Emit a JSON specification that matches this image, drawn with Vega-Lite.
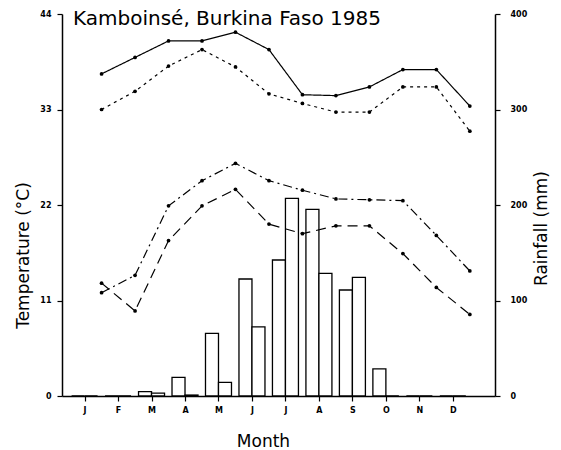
{
  "$schema": "https://vega.github.io/schema/vega-lite/v6.json",
  "width": 433,
  "height": 382,
  "autosize": "none",
  "padding": {"left": 62, "top": 14, "right": 66, "bottom": 54},
  "background": "white",
  "title": {
    "text": "Kamboinsé, Burkina Faso 1985",
    "anchor": "start",
    "orient": "top",
    "frame": "group",
    "offset": 0,
    "dy": 35,
    "dx": 11,
    "baseline": "alphabetic",
    "font": "DejaVu Sans",
    "fontSize": 20,
    "fontWeight": "normal",
    "color": "black"
  },
  "config": {
    "view": {"stroke": null},
    "axis": {
      "labelFont": "DejaVu Sans",
      "titleFont": "DejaVu Sans",
      "labelColor": "black",
      "titleColor": "black",
      "domainColor": "black",
      "tickColor": "black",
      "domainWidth": 1.5,
      "tickWidth": 1.2,
      "grid": false,
      "labelFontWeight": "bold",
      "labelFontSize": 8,
      "titleFontWeight": "normal",
      "titleFontSize": 17
    }
  },
  "data": {
    "values": [
      {"month": 1, "rain1": 0, "rain2": 0, "Tmax_abs": 37.1, "Tmax": 33.0, "Tmin": 11.9, "Tmin_abs": 13.0},
      {"month": 2, "rain1": 0, "rain2": 0, "Tmax_abs": 39.0, "Tmax": 35.1, "Tmin": 13.9, "Tmin_abs": 9.8},
      {"month": 3, "rain1": 4.5, "rain2": 3, "Tmax_abs": 40.9, "Tmax": 38.0, "Tmin": 21.9, "Tmin_abs": 17.9},
      {"month": 4, "rain1": 19.5, "rain2": 1, "Tmax_abs": 40.9, "Tmax": 39.9, "Tmin": 24.8, "Tmin_abs": 21.9},
      {"month": 5, "rain1": 65.6, "rain2": 14.3, "Tmax_abs": 41.9, "Tmax": 37.9, "Tmin": 26.8, "Tmin_abs": 23.8},
      {"month": 6, "rain1": 122.5, "rain2": 72.3, "Tmax_abs": 39.9, "Tmax": 34.8, "Tmin": 24.8, "Tmin_abs": 19.8},
      {"month": 7, "rain1": 142.4, "rain2": 207, "Tmax_abs": 34.7, "Tmax": 33.7, "Tmin": 23.7, "Tmin_abs": 18.7},
      {"month": 8, "rain1": 195.5, "rain2": 128.5, "Tmax_abs": 34.6, "Tmax": 32.7, "Tmin": 22.7, "Tmin_abs": 19.6},
      {"month": 9, "rain1": 111, "rain2": 124.3, "Tmax_abs": 35.6, "Tmax": 32.7, "Tmin": 22.6, "Tmin_abs": 19.6},
      {"month": 10, "rain1": 28.3, "rain2": 0, "Tmax_abs": 37.6, "Tmax": 35.6, "Tmin": 22.5, "Tmin_abs": 16.4},
      {"month": 11, "rain1": 0, "rain2": 0, "Tmax_abs": 37.6, "Tmax": 35.6, "Tmin": 18.5, "Tmin_abs": 12.5},
      {"month": 12, "rain1": 0, "rain2": 0, "Tmax_abs": 33.4, "Tmax": 30.5, "Tmin": 14.4, "Tmin_abs": 9.4}
    ]
  },
  "encoding": {
    "x": {
      "field": "month",
      "type": "quantitative",
      "scale": {"domain": [0.475, 13.11], "nice": false, "zero": false},
      "axis": {
        "values": [1, 2, 3, 4, 5, 6, 7, 8, 9, 10, 11, 12],
        "labelExpr": "['J','F','M','A','M','J','J','A','S','O','N','D'][datum.value - 1]",
        "title": "Month",
        "tickSize": 5,
        "labelPadding": 5,
        "titleX": 201,
        "titleY": 45,
        "titleBaseline": "middle",
        "titleAlign": "center"
      }
    }
  },
  "layer": [
    {
      "encoding": {
        "y": {
          "type": "quantitative",
          "scale": {"domain": [0, 400], "nice": false},
          "axis": {
            "orient": "right",
            "values": [0, 100, 200, 300, 400],
            "title": "Rainfall (mm)",
            "tickSize": 5,
            "labelPadding": 10,
            "titleAngle": 270,
            "titleX": 46,
            "titleY": 214,
            "titleBaseline": "middle",
            "titleAlign": "center"
          }
        }
      },
      "layer": [
        {
          "mark": {"type": "bar", "width": 13, "xOffset": -6.5, "fill": "white", "stroke": "black", "strokeWidth": 1.3},
          "encoding": {"y": {"field": "rain1", "type": "quantitative"}}
        },
        {
          "mark": {"type": "bar", "width": 13, "xOffset": 6.5, "fill": "white", "stroke": "black", "strokeWidth": 1.3},
          "encoding": {"y": {"field": "rain2", "type": "quantitative"}}
        }
      ]
    },
    {
      "transform": [{"fold": ["Tmax_abs", "Tmax", "Tmin", "Tmin_abs"], "as": ["series", "temp"]}],
      "encoding": {
        "y": {
          "field": "temp",
          "type": "quantitative",
          "scale": {"domain": [0, 44], "nice": false},
          "axis": {
            "values": [0, 11, 22, 33, 44],
            "title": "Temperature (°C)",
            "tickSize": 5,
            "labelPadding": 6,
            "titleX": -39,
            "titleY": 241,
            "titleBaseline": "middle",
            "titleAlign": "center"
          }
        }
      },
      "layer": [
        {
          "mark": {"type": "line", "xOffset": 17, "color": "black", "strokeWidth": 1.2},
          "encoding": {
            "detail": {"field": "series"},
            "strokeDash": {
              "field": "series",
              "type": "nominal",
              "scale": {"domain": ["Tmax_abs", "Tmax", "Tmin", "Tmin_abs"], "range": [[1, 0], [3, 4], [9, 4, 2, 4], [10, 6]]},
              "legend": null
            }
          }
        },
        {
          "mark": {"type": "point", "xOffset": 17, "filled": true, "color": "black", "size": 14, "opacity": 1},
          "encoding": {"detail": {"field": "series"}}
        }
      ]
    }
  ],
  "resolve": {"scale": {"y": "independent"}}
}
